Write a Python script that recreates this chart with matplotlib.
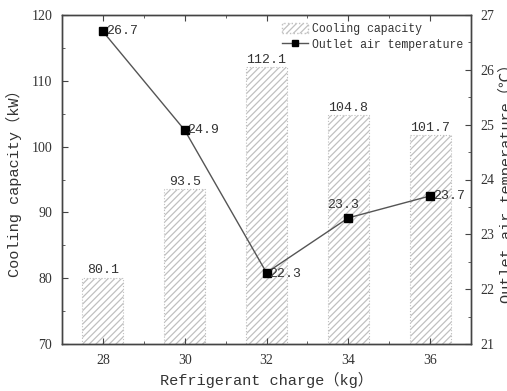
import matplotlib
matplotlib.use("Agg")
import matplotlib.pyplot as plt
from matplotlib.ticker import MultipleLocator
from matplotlib.patches import Patch
from matplotlib.lines import Line2D

charge = [28, 30, 32, 34, 36]
cooling = [80.1, 93.5, 112.1, 104.8, 101.7]
outlet_temp = [26.7, 24.9, 22.3, 23.3, 23.7]

MONO = ['Liberation Mono', 'Noto Sans CJK SC', 'DejaVu Sans']
SERIF = ['Liberation Serif', 'DejaVu Serif']
plt.rcParams['font.family'] = MONO
plt.rcParams['hatch.color'] = '#6e6e6e'
plt.rcParams['hatch.linewidth'] = 0.9
txt = '#333333'

fig = plt.figure(figsize=(5.07, 3.91), dpi=100)
ax = fig.add_axes([62/507, 1-344/391, (471-62)/507, (344-15)/391])
ax2 = ax.twinx()

ax.bar(charge, cooling, width=1.0, bottom=0, color='white', edgecolor='#c0c0c0',
       hatch='/////', linewidth=0.8, linestyle=':', zorder=1)
for x, v in zip(charge, cooling):
    ax.text(x, v + 0.2, f"{v}", ha='center', va='bottom', fontsize=9.5, color=txt)

ax.set_xlim(27, 37)
ax.set_ylim(70, 120)
ax.set_xticks(charge)
ax.xaxis.set_minor_locator(MultipleLocator(1))
ax.yaxis.set_minor_locator(MultipleLocator(5))
ax.yaxis.set_major_locator(MultipleLocator(10))
ax.tick_params(axis='both', which='both', direction='in', top=True, colors='#444444',
               labelcolor=txt, labelsize=10)
ax.tick_params(which='major', length=4)
ax.tick_params(which='minor', length=2.5)
ax.tick_params(axis='x', pad=7)
ax.tick_params(axis='y', pad=7)
for lab in ax.get_xticklabels() + ax.get_yticklabels():
    lab.set_family(SERIF)
ax.set_xlabel("Refrigerant charge（kg）", fontsize=11, color=txt, labelpad=4)
ax.set_ylabel("Cooling capacity（kW）", fontsize=11, color=txt, labelpad=7)

ax2.plot(charge, outlet_temp, color='#555555', lw=1.0, marker='s', ms=5.5,
         mfc='black', mec='black', zorder=3)
ax2.set_ylim(21, 27)
ax2.yaxis.set_minor_locator(MultipleLocator(0.5))
ax2.yaxis.set_major_locator(MultipleLocator(1))
ax2.tick_params(axis='y', which='both', direction='in', colors='#444444',
                labelcolor=txt, labelsize=10, pad=7)
ax2.tick_params(which='major', length=4)
ax2.tick_params(which='minor', length=2.5)
for lab in ax2.get_yticklabels():
    lab.set_family(SERIF)
ax2.set_ylabel("Outlet air temperature（℃）", fontsize=11, color=txt, labelpad=2)

for i, (x, v) in enumerate(zip(charge, outlet_temp)):
    if i == 3:
        ax2.annotate(f"{v}", (x, v), xytext=(-4, 5), textcoords='offset points',
                     ha='center', va='bottom', fontsize=9.5, color=txt)
    else:
        dy = -1 if i == 2 else 0
        ax2.annotate(f"{v}", (x, v), xytext=(2, dy), textcoords='offset points',
                     ha='left', va='center', fontsize=9.5, color=txt)

for a in (ax, ax2):
    for s in a.spines.values():
        s.set_color('#444444')
        s.set_linewidth(1.0)

handles = [Patch(facecolor='white', edgecolor='#c0c0c0', hatch='/////', linestyle=':'),
           Line2D([], [], color='#555555', lw=1.0, marker='s', ms=5, mfc='black', mec='black')]
ax2.legend(handles, ["Cooling capacity", "Outlet air temperature"], loc='upper right',
           frameon=False, fontsize=8.3, handlelength=2.2, handleheight=1.0, handletextpad=0.4,
           labelspacing=0.3, borderaxespad=0.25, labelcolor=txt,
           bbox_to_anchor=(1.0, 0.998))

fig.savefig("out.png", dpi=100)
